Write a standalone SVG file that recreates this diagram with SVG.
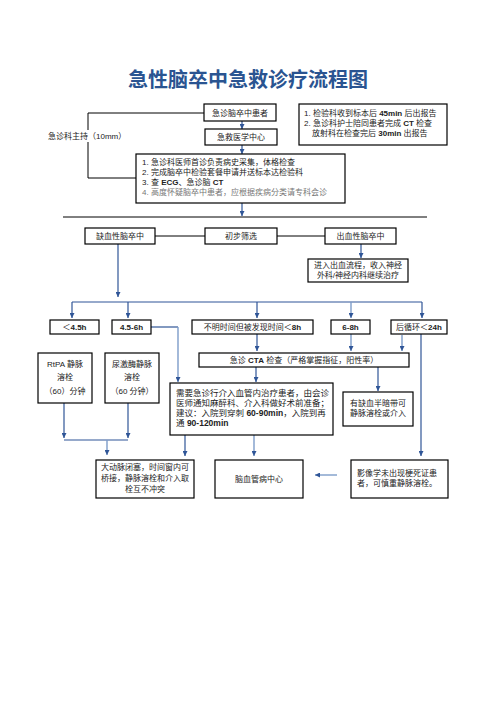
<svg xmlns="http://www.w3.org/2000/svg" width="496" height="702" viewBox="0 0 496 702">
<style>
text{font-family:"Liberation Sans","Noto Sans CJK SC",sans-serif;font-size:8px;fill:#222}
.t{font-size:20px;font-weight:bold;fill:#2a5491}
.c{text-anchor:middle}
.b{font-weight:bold}
.g{fill:#777}
rect{fill:#fff;stroke:#000;stroke-width:1.2}
.ln{fill:none;stroke:#2f5597;stroke-width:1.2}
.lt{fill:none;stroke:#7d9cc9;stroke-width:1.4}
.bk{fill:none;stroke:#000;stroke-width:1}
</style>
<defs>
<marker id="ah" viewBox="0 0 10 10" refX="10" refY="5" markerWidth="5" markerHeight="5" markerUnits="userSpaceOnUse" orient="auto"><path d="M0,0 L10,5 L0,10 z" fill="#2f5597"/></marker>
</defs>
<text class="t c" x="248" y="87">急性脑卒中急救诊疗流程图</text>

<g id="connectors">
<line class="ln" x1="242" y1="121" x2="242" y2="129" marker-end="url(#ah)"/>
<line class="ln" x1="242" y1="145" x2="242" y2="154" marker-end="url(#ah)"/>
<polyline class="bk" points="204,113 88,113 88,130"/>
<polyline class="bk" points="88,142 88,178 136,178"/>
<line class="ln" x1="242" y1="203" x2="242" y2="216" marker-end="url(#ah)"/>
<line class="bk" x1="63" y1="217" x2="427" y2="217"/>
<line class="bk" x1="155" y1="236" x2="205" y2="236"/>
<line class="bk" x1="277" y1="236" x2="325" y2="236"/>
<line class="ln" x1="361" y1="244" x2="361" y2="258" marker-end="url(#ah)"/>
<line class="ln" x1="118" y1="244" x2="118" y2="297" marker-end="url(#ah)"/>
<line class="ln" x1="72" y1="302" x2="422" y2="302"/>
<line class="ln" x1="72" y1="302" x2="72" y2="318" marker-end="url(#ah)"/>
<line class="ln" x1="128" y1="302" x2="128" y2="318" marker-end="url(#ah)"/>
<line class="ln" x1="257" y1="302" x2="257" y2="318" marker-end="url(#ah)"/>
<line class="lt" x1="351" y1="302" x2="351" y2="318" marker-end="url(#ah)"/>
<line class="ln" x1="422" y1="302" x2="422" y2="318" marker-end="url(#ah)"/>
<polyline class="ln" points="151,327 178,327"/>
<line class="lt" x1="178" y1="327" x2="178" y2="382" marker-end="url(#ah)"/>
<line class="ln" x1="257" y1="334" x2="257" y2="351" marker-end="url(#ah)"/>
<line class="lt" x1="351" y1="334" x2="351" y2="351" marker-end="url(#ah)"/>
<line class="lt" x1="402" y1="335" x2="402" y2="351" marker-end="url(#ah)"/>
<line class="ln" x1="421" y1="334" x2="421" y2="456" marker-end="url(#ah)"/>
<line class="ln" x1="256" y1="367" x2="256" y2="382" marker-end="url(#ah)"/>
<line class="ln" x1="378" y1="367" x2="378" y2="391" marker-end="url(#ah)"/>
<line class="ln" x1="64" y1="403" x2="64" y2="438" marker-end="url(#ah)"/>
<line class="ln" x1="128" y1="403" x2="128" y2="438" marker-end="url(#ah)"/>
<line class="ln" x1="64" y1="440" x2="128" y2="440"/>
<line class="lt" x1="107" y1="440" x2="107" y2="455" marker-end="url(#ah)"/>
<line class="ln" x1="185" y1="435" x2="185" y2="456" marker-end="url(#ah)"/>
<line class="lt" x1="254" y1="435" x2="254" y2="456" marker-end="url(#ah)"/>
<line class="lt" x1="337" y1="475" x2="315" y2="475" marker-end="url(#ah)"/>
</g>

<g id="label-host"><text x="48" y="139">急诊科主持（10mm）</text></g>

<g id="n-patient"><rect x="204" y="104" width="72" height="17"/><text class="c" x="240" y="115.5">急诊脑卒中患者</text></g>
<g id="n-center"><rect x="205" y="129" width="72" height="16"/><text class="c" x="241" y="140">急救医学中心</text></g>
<g id="n-report"><rect x="299" y="104" width="148" height="41"/>
<text x="304" y="116">1. 检验科收到标本后 <tspan class="b">45min</tspan> 后出报告</text>
<text x="304" y="126">2. 急诊科护士陪同患者完成 <tspan class="b">CT</tspan> 检查</text>
<text x="312" y="136">放射科在检查完后 <tspan class="b">30min</tspan> 出报告</text></g>
<g id="n-steps"><rect x="136" y="154" width="209" height="49"/>
<text x="142" y="165">1. 急诊科医师首诊负责病史采集，体格检查</text>
<text x="142" y="175">2. 完成脑卒中检验套餐申请并送标本达检验科</text>
<text x="142" y="185">3. 查 <tspan class="b">ECG</tspan>、急诊脑 <tspan class="b">CT</tspan></text>
<text class="g" x="142" y="195">4. 高度怀疑脑卒中患者，应根据疾病分类请专科会诊</text></g>

<g id="n-isch"><rect x="85" y="228" width="70" height="16"/><text class="c" x="120" y="239">缺血性脑卒中</text></g>
<g id="n-screen"><rect x="205" y="228" width="72" height="16"/><text class="c" x="241" y="239">初步筛选</text></g>
<g id="n-hem"><rect x="325" y="228" width="71" height="16"/><text class="c" x="360.5" y="239">出血性脑卒中</text></g>
<g id="n-hemflow"><rect x="308" y="259" width="100" height="23"/>
<text class="c" x="358" y="268">进入出血流程，收入神经</text>
<text class="c" x="358" y="278">外科/神经内科继续治疗</text></g>

<g id="n-t1"><rect x="50" y="320" width="49" height="14"/><text class="c" x="74.5" y="330">＜<tspan class="b">4.5h</tspan></text></g>
<g id="n-t2"><rect x="112" y="320" width="39" height="14"/><text class="c b" x="131.5" y="330">4.5-6h</text></g>
<g id="n-t3"><rect x="192" y="320" width="121" height="14"/><text class="c" x="252.5" y="330">不明时间但被发现时间＜<tspan class="b">8h</tspan></text></g>
<g id="n-t4"><rect x="331" y="320" width="39" height="14"/><text class="c b" x="350.5" y="330">6-8h</text></g>
<g id="n-t5"><rect x="391" y="320" width="56" height="14"/><text class="c" x="419" y="330">后循环＜<tspan class="b">24h</tspan></text></g>

<g id="n-cta"><rect x="199" y="353" width="210" height="14"/><text class="c" x="304" y="363">急诊 <tspan class="b">CTA</tspan> 检查（严格掌握指征，阳性率）</text></g>

<g id="n-rtpa"><rect x="38" y="353" width="54" height="50"/>
<text class="c" x="65" y="367">RtPA 静脉</text>
<text class="c" x="65" y="380">溶栓</text>
<text class="c" x="65" y="394">（60）分钟</text></g>
<g id="n-uk"><rect x="105" y="353" width="54" height="50"/>
<text class="c" x="132" y="367">尿激酶静脉</text>
<text class="c" x="132" y="380">溶栓</text>
<text class="c" x="132" y="394">（60 分钟）</text></g>

<g id="n-interv"><rect x="170" y="383" width="163" height="52"/>
<text x="176" y="396" style="font-size:8.5px">需要急诊行介入血管内治疗患者，由会诊</text>
<text x="176" y="406" style="font-size:8.5px">医师通知麻醉科、介入科做好术前准备；</text>
<text x="176" y="416" style="font-size:8.5px">建议：入院到穿刺  <tspan class="b">60-90min</tspan>，入院到再</text>
<text x="176" y="426" style="font-size:8.5px">通 <tspan class="b">90-120min</tspan></text></g>

<g id="n-penumbra"><rect x="343" y="392" width="70" height="34"/>
<text class="c" x="378" y="406">有缺血半暗带可</text>
<text class="c" x="378" y="416">静脉溶栓或介入</text></g>

<g id="n-bridge"><rect x="96" y="460" width="98" height="38"/>
<text class="c" x="145" y="470">大动脉闭塞，时间窗内可</text>
<text class="c" x="145" y="481">桥接，静脉溶栓和介入取</text>
<text class="c" x="145" y="492">栓互不冲突</text></g>
<g id="n-cvd"><rect x="215" y="460" width="88" height="38"/><text class="c" x="259" y="482">脑血管病中心</text></g>
<g id="n-imaging"><rect x="351" y="460" width="97" height="38"/>
<text x="357" y="476">影像学未出现梗死证患</text>
<text x="357" y="486">者，可慎重静脉溶栓。</text></g>
</svg>
